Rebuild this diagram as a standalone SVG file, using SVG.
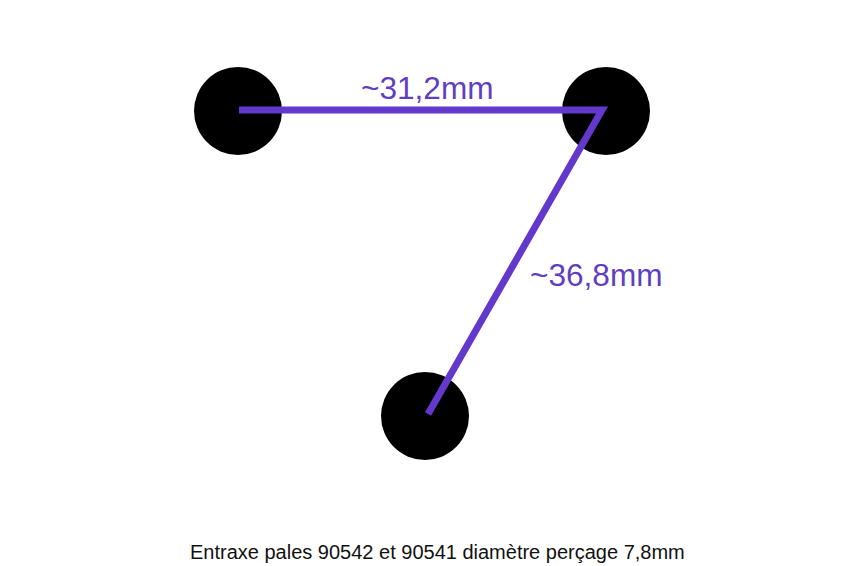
<svg xmlns="http://www.w3.org/2000/svg" width="849" height="566" viewBox="0 0 849 566">
<style>
.hole{fill:#000}
.dim{fill:none;stroke:#6338cc;stroke-width:7;stroke-linejoin:miter;stroke-linecap:butt}
.lbl{font-family:"Liberation Sans",Arial,sans-serif;font-size:31.6px;fill:#5f3fc0}
.cap{font-family:"Liberation Sans",Arial,sans-serif;font-size:20px;fill:#111}
</style>
<rect width="849" height="566" fill="#fff"/>
<g id="hole1"><circle class="hole" cx="238" cy="111" r="44"/></g>
<g id="hole2"><circle class="hole" cx="606" cy="111" r="44"/></g>
<g id="hole3"><circle class="hole" cx="425" cy="416" r="44"/></g>
<g id="connectors">
<path class="dim" d="M239,110 L602,110 L428,414"/>
</g>
<g id="labels">
<text class="lbl" x="361" y="99">~31,2mm</text>
<text class="lbl" x="530" y="286">~36,8mm</text>
<text class="cap" x="190" y="559">Entraxe pales 90542 et 90541 diamètre perçage 7,8mm</text>
</g>
</svg>
